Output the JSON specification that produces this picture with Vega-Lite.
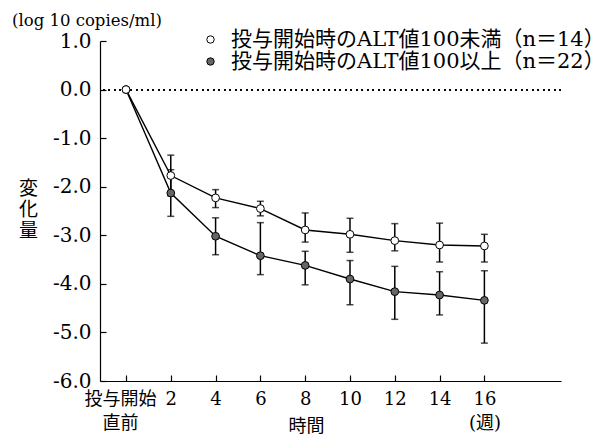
{
  "$schema": "https://vega.github.io/schema/vega-lite/v6.json",
  "width": 461,
  "height": 340,
  "autosize": {"type": "none"},
  "padding": {"left": 100, "top": 41, "right": 50, "bottom": 55},
  "background": "white",
  "config": {
    "view": {"stroke": null},
    "font": "DejaVu Serif, Noto Sans CJK JP",
    "axis": {"grid": false, "domainColor": "black", "tickColor": "black", "labelColor": "black", "titleColor": "black", "domainWidth": 1.2, "tickWidth": 1.2}
  },
  "title": {"text": "(log 10 copies/ml)", "anchor": "start", "frame": "group", "dx": -88, "font": "DejaVu Serif", "fontSize": 16.5, "fontWeight": "normal", "color": "black", "offset": 0},
  "data": {"values": [
    {"week": 0, "group": "投与開始時のALT値100以上（n＝22）", "mean": 0, "lo": null, "hi": null},
    {"week": 2, "group": "投与開始時のALT値100以上（n＝22）", "mean": -2.13, "lo": -2.61, "hi": -1.65},
    {"week": 4, "group": "投与開始時のALT値100以上（n＝22）", "mean": -3.02, "lo": -3.40, "hi": -2.64},
    {"week": 6, "group": "投与開始時のALT値100以上（n＝22）", "mean": -3.42, "lo": -3.81, "hi": -2.74},
    {"week": 8, "group": "投与開始時のALT値100以上（n＝22）", "mean": -3.62, "lo": -4.02, "hi": -3.33},
    {"week": 10, "group": "投与開始時のALT値100以上（n＝22）", "mean": -3.90, "lo": -4.43, "hi": -3.52},
    {"week": 12, "group": "投与開始時のALT値100以上（n＝22）", "mean": -4.16, "lo": -4.73, "hi": -3.64},
    {"week": 14, "group": "投与開始時のALT値100以上（n＝22）", "mean": -4.23, "lo": -4.64, "hi": -3.75},
    {"week": 16, "group": "投与開始時のALT値100以上（n＝22）", "mean": -4.34, "lo": -5.22, "hi": -3.73},
    {"week": 0, "group": "投与開始時のALT値100未満（n＝14）", "mean": 0, "lo": null, "hi": null},
    {"week": 2, "group": "投与開始時のALT値100未満（n＝14）", "mean": -1.77, "lo": -2.19, "hi": -1.35},
    {"week": 4, "group": "投与開始時のALT値100未満（n＝14）", "mean": -2.23, "lo": -2.43, "hi": -2.06},
    {"week": 6, "group": "投与開始時のALT値100未満（n＝14）", "mean": -2.45, "lo": -2.60, "hi": -2.30},
    {"week": 8, "group": "投与開始時のALT値100未満（n＝14）", "mean": -2.89, "lo": -3.14, "hi": -2.54},
    {"week": 10, "group": "投与開始時のALT値100未満（n＝14）", "mean": -2.98, "lo": -3.35, "hi": -2.65},
    {"week": 12, "group": "投与開始時のALT値100未満（n＝14）", "mean": -3.11, "lo": -3.32, "hi": -2.76},
    {"week": 14, "group": "投与開始時のALT値100未満（n＝14）", "mean": -3.20, "lo": -3.55, "hi": -2.75},
    {"week": 16, "group": "投与開始時のALT値100未満（n＝14）", "mean": -3.22, "lo": -3.55, "hi": -2.98}
  ]},
  "layer": [
    {
      "mark": {"type": "rule", "strokeDash": [1.5, 4], "strokeWidth": 1.3, "color": "black"},
      "encoding": {
        "y": {"datum": 0, "type": "quantitative", "scale": {"domain": [-6, 1], "nice": false, "zero": false}}
      }
    },
    {
      "mark": {"type": "rule", "strokeWidth": 1.5, "color": "black"},
      "encoding": {
        "x": {"field": "week", "type": "quantitative", "scale": {"domain": [-1.16, 19.42], "nice": false, "zero": false}},
        "y": {"field": "lo", "type": "quantitative", "scale": {"domain": [-6, 1], "nice": false, "zero": false}},
        "y2": {"field": "hi"},
        "detail": {"field": "group"}
      }
    },
    {
      "mark": {"type": "tick", "orient": "horizontal", "size": 7, "thickness": 1.5, "color": "black"},
      "encoding": {
        "x": {"field": "week", "type": "quantitative", "scale": {"domain": [-1.16, 19.42], "nice": false, "zero": false}},
        "y": {"field": "lo", "type": "quantitative", "scale": {"domain": [-6, 1], "nice": false, "zero": false}},
        "detail": {"field": "group"}
      }
    },
    {
      "mark": {"type": "tick", "orient": "horizontal", "size": 7, "thickness": 1.5, "color": "black"},
      "encoding": {
        "x": {"field": "week", "type": "quantitative", "scale": {"domain": [-1.16, 19.42], "nice": false, "zero": false}},
        "y": {"field": "hi", "type": "quantitative", "scale": {"domain": [-6, 1], "nice": false, "zero": false}},
        "detail": {"field": "group"}
      }
    },
    {
      "mark": {"type": "line", "strokeWidth": 1.4, "color": "black"},
      "encoding": {
        "x": {"field": "week", "type": "quantitative", "scale": {"domain": [-1.16, 19.42], "nice": false, "zero": false}},
        "y": {"field": "mean", "type": "quantitative", "scale": {"domain": [-6, 1], "nice": false, "zero": false}},
        "detail": {"field": "group"}
      }
    },
    {
      "mark": {"type": "point", "filled": true, "stroke": "black", "strokeWidth": 1, "size": 60, "opacity": 1},
      "encoding": {
        "x": {"field": "week", "type": "quantitative", "scale": {"domain": [-1.16, 19.42], "nice": false, "zero": false},
          "axis": {"values": [0, 2, 4, 6, 8, 10, 12, 14, 16],
            "labelExpr": "datum.value == 0 ? ['投与開始', '直前'] : datum.value == 16 ? ['16', '(週)'] : datum.label",
            "tickSize": -6, "labelPadding": 15, "labelBaseline": "top", "labelLineHeight": 24,
            "labelOffset": {"condition": {"test": "datum.value == 0", "value": -6}, "value": 0},
            "labelFontSize": 18, "labelFlush": false, "labelOverlap": false,
            "title": "時間", "titleX": 206, "titleY": 45, "titleBaseline": "middle", "titleAlign": "center",
            "titleFontSize": 18, "titleFontWeight": "normal"}},
        "y": {"field": "mean", "type": "quantitative", "scale": {"domain": [-6, 1], "nice": false, "zero": false},
          "axis": {"values": [-6, -5, -4, -3, -2, -1, 0, 1],
            "labelExpr": "replace(format(datum.value, '.1f'), '\u2212', '-')",
            "tickSize": -6, "labelPadding": 15, "labelFontSize": 20, "labelFlush": false, "labelOverlap": false,
            "title": ["変", "化", "量"], "titleAngle": 0, "titleX": -72, "titleY": 147, "titleAlign": "center", "titleBaseline": "middle",
            "titleLineHeight": 21, "titleFontSize": 19, "titleFontWeight": "normal"}},
        "fill": {"field": "group", "type": "nominal",
          "scale": {"domain": ["投与開始時のALT値100未満（n＝14）", "投与開始時のALT値100以上（n＝22）"], "range": ["white", "#666666"]},
          "legend": {"title": null, "orient": "none", "legendX": 100, "legendY": -12, "labelFontSize": 21, "labelColor": "black", "labelLimit": 0,
            "symbolSize": 55, "symbolStrokeWidth": 1, "symbolStrokeColor": "black", "symbolType": "circle", "labelOffset": 10, "rowPadding": 0}}
      }
    }
  ]
}
